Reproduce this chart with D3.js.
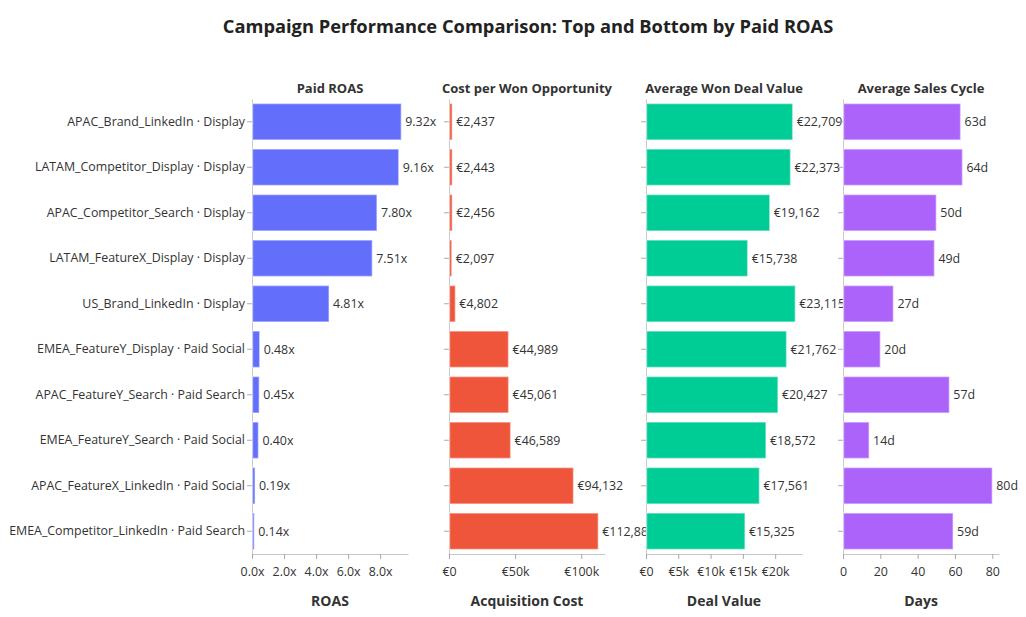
<!DOCTYPE html>
<html><head><meta charset="utf-8">
<script src="https://cdn.jsdelivr.net/npm/d3@7"></script>
<style>body{margin:0;background:#fff}svg{display:block}text{font-family:"Open Sans","Noto Sans",sans-serif}</style>
</head><body><svg id="c" width="1026" height="617"></svg>
<script>
const campaigns = ["APAC_Brand_LinkedIn · Display","LATAM_Competitor_Display · Display","APAC_Competitor_Search · Display","LATAM_FeatureX_Display · Display","US_Brand_LinkedIn · Display","EMEA_FeatureY_Display · Paid Social","APAC_FeatureY_Search · Paid Search","EMEA_FeatureY_Search · Paid Social","APAC_FeatureX_LinkedIn · Paid Social","EMEA_Competitor_LinkedIn · Paid Search"];
const roas = [9.32,9.16,7.80,7.51,4.81,0.48,0.45,0.40,0.19,0.14];
const costPerWon = [2437,2443,2456,2097,4802,44989,45061,46589,94132,112885];
const dealValue = [22709,22373,19162,15738,23115,21762,20427,18572,17561,15325];
const salesCycle = [63,64,50,49,27,20,57,14,80,59];
const panelTitles = ["Paid ROAS","Cost per Won Opportunity","Average Won Deal Value","Average Sales Cycle"];
const axisTitles = ["ROAS","Acquisition Cost","Deal Value","Days"];
const roasTicks = [0,2,4,6,8];
const costTicks = [0,50000,100000];
const dealTicks = [0,5000,10000,15000,20000];
const dayTicks = [0,20,40,60,80];
const colors = ["#636efa","#EF553B","#00cc96","#ab63fa"];
const chartTitle = "Campaign Performance Comparison: Top and Bottom by Paid ROAS";

const svg = d3.select("#c");
const y = d3.scaleBand().domain(campaigns).range([99,554]).paddingInner(0.2).paddingOuter(0.1);
const panelX0 = [252,449,646,843], panelW = 156;
const fmtEur = v => "€" + d3.format(",")(v);
const fmtK = v => v===0 ? "€0" : "€" + (v/1000) + "k";
const panels = [
  {vals:roas, ticks:roasTicks, tf:v=>v.toFixed(1)+"x", lf:v=>v.toFixed(2)+"x"},
  {vals:costPerWon, ticks:costTicks, tf:fmtK, lf:fmtEur},
  {vals:dealValue, ticks:dealTicks, tf:fmtK, lf:fmtEur},
  {vals:salesCycle, ticks:dayTicks, tf:v=>String(v), lf:v=>v+"d"}
];

svg.append("text").attr("x",528).attr("y",33).attr("text-anchor","middle")
  .attr("font-size",18.3).attr("font-weight","bold").attr("fill","#222").text(chartTitle);

panels.forEach((p,i)=>{
  const x0 = panelX0[i];
  const x = d3.scaleLinear().domain([0, d3.max(p.vals)*1.045]).range([x0, x0+panelW]);
  const g = svg.append("g");
  const ya = g.append("g").attr("transform",`translate(${x0},0)`)
    .call(d3.axisLeft(y).tickSize(5).tickSizeOuter(0).tickFormat(i===0? d=>d : ()=>""));
  ya.select(".domain").attr("stroke","#c8c8c8");
  ya.selectAll(".tick line").attr("stroke","#aaa");
  ya.selectAll(".tick text").attr("font-size",12.4).attr("fill","#333").attr("x",-7);
  const xa = g.append("g").attr("transform",`translate(0,554)`)
    .call(d3.axisBottom(x).tickValues(p.ticks).tickSize(5).tickSizeOuter(0).tickFormat(p.tf));
  xa.select(".domain").attr("stroke","#c8c8c8");
  xa.selectAll(".tick line").attr("stroke","#aaa");
  xa.selectAll(".tick text").attr("font-size",12.4).attr("fill","#333").attr("dy","1.15em");
  g.selectAll("rect.b").data(p.vals).join("rect").attr("class","b")
    .attr("x",x(0)+0.5).attr("y",(d,j)=>y(campaigns[j]))
    .attr("width",d=>Math.max(0,x(d)-x(0)-0.5)).attr("height",y.bandwidth())
    .attr("fill",colors[i]).attr("stroke","rgba(255,255,255,0.45)").attr("stroke-width",1.5);
  g.selectAll("text.v").data(p.vals).join("text").attr("class","v")
    .attr("x",d=>x(d)+4).attr("y",(d,j)=>y(campaigns[j])+y.bandwidth()/2).attr("dy","0.35em")
    .attr("font-size",12.4).attr("fill","#333").text(p.lf);
  g.append("text").attr("x",x0+panelW/2).attr("y",93).attr("text-anchor","middle")
    .attr("font-size",13).attr("font-weight","bold").attr("fill","#333").text(panelTitles[i]);
  g.append("text").attr("x",x0+panelW/2).attr("y",606).attr("text-anchor","middle")
    .attr("font-size",14).attr("font-weight","bold").attr("fill","#333").text(axisTitles[i]);
});
</script></body></html>
